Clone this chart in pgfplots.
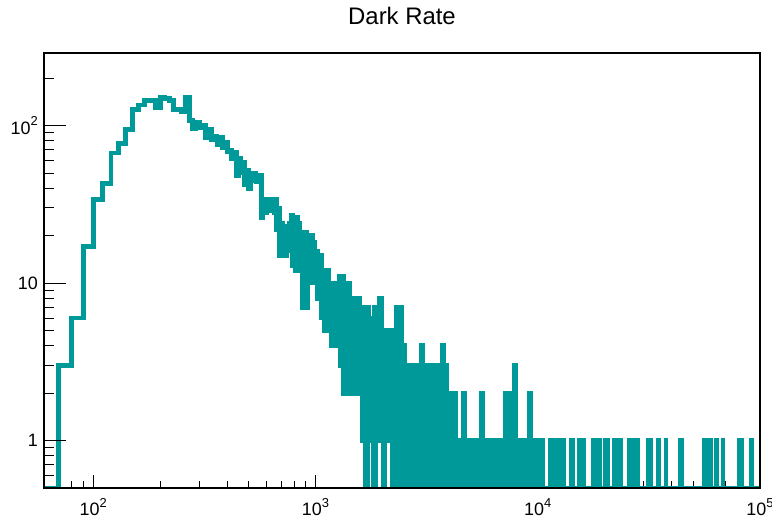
\documentclass[border=0pt]{standalone}
\usepackage{fontspec}
\setmainfont{Liberation Sans}
\usepackage{pgfplots}
\pgfplotsset{compat=1.18}
\usepackage{pgfplotstable}
\definecolor{histteal}{RGB}{0,153,153}

% decade label 10^k in text font
\newcommand{\dec}[1]{10\raisebox{0.46em}{\fontsize{13}{13}\selectfont #1}}

% bin lower edge (bins are 10 wide) and entries; only change points are listed
\pgfplotstableread{
x n
60 0
70 3
80 6
90 17
100 34
110 43
120 67
130 77
140 94
150 127
160 135
170 145
180 145
190 130
200 152
210 148
220 145
230 126
240 126
250 122
260 150
270 108
280 95
290 105
300 97
310 100
320 84
330 95
340 82
350 86
360 76
370 84
380 72
390 78
400 68
410 70
420 62
430 68
440 48
450 62
460 50
470 58
480 42
490 52
500 40
510 50
520 45
530 50
540 44
550 46
560 48
570 26
580 34
590 28
600 33
610 29
620 34
630 29
640 33
650 28
660 34
670 22
680 30
690 15
700 24
710 16
720 23
730 15
740 22
750 16
760 24
770 18
780 27
790 13
800 25
810 12
820 26
830 14
840 24
850 12
860 21
870 7
880 18
890 9
900 21
910 7
920 20
930 10
940 19
950 10
960 20
970 11
980 18
990 10
1000 16
1020 8
1040 15
1060 6
1080 12
1100 5
1120 12
1140 6
1160 10
1180 4
1200 10
1220 5
1240 10
1260 4
1280 11
1300 3
1320 11
1340 2
1360 10
1380 3
1400 10
1420 2
1440 8
1460 3
1480 8
1500 2
1520 8
1540 3
1560 8
1580 2
1600 7
1620 1
1640 6
1660 2
1670 0
1680 7
1690 0
1700 6
1710 0
1720 7
1730 1
1750 6
1770 2
1790 6
1810 1
1830 0
1840 7
1850 0
1860 7
1870 1
1890 7
1910 2
1930 8
1950 1
1970 8
1990 2
2010 5
2020 0
2030 5
2040 0
2050 5
2070 1
2100 5
2130 1
2160 5
2190 2
2210 0
2220 5
2230 0
2250 5
2260 0
2270 5
2280 0
2300 7
2330 1
2360 7
2380 0
2400 7
2440 0
2480 4
2520 0
2560 3
2600 0
2640 3
2680 0
2720 3
2770 0
2810 3
2850 0
2900 3
2940 0
2990 4
3040 0
3090 3
3130 0
3180 3
3230 0
3280 3
3330 0
3390 3
3440 0
3490 3
3550 0
3600 3
3660 0
3720 4
3780 0
3840 3
3900 0
3960 2
4020 0
4080 2
4150 0
4210 2
4280 0
4340 1
4410 0
4480 1
4550 0
4620 2
4700 0
4770 1
4840 0
4920 1
5000 0
5080 1
5160 0
5240 1
5320 0
5400 1
5490 0
5570 2
5660 0
5750 1
5840 0
5930 1
6020 0
6120 1
6210 0
6310 1
6410 0
6510 1
6610 0
6720 1
6820 0
6930 1
7040 0
7150 2
7260 0
7370 2
7490 0
7610 2
7730 0
7850 3
7970 0
8090 1
8220 0
8350 1
8480 0
8610 1
8750 0
8890 1
9030 0
9170 2
9310 0
9460 1
9610 0
9760 1
9910 0
10060 1
10220 0
10380 1
10540 0
11400 1
11410 0
11790 1
11800 0
12200 1
12210 0
12630 1
12640 0
13050 1
13060 0
14170 1
14180 0
14380 1
14390 0
15460 1
15470 0
16070 1
16080 0
17750 1
17760 0
18350 1
18360 0
18970 1
18980 0
20250 1
20260 0
20610 1
20620 0
22070 1
22080 0
22810 1
22820 0
23580 1
23590 0
25960 1
25970 0
26700 1
26710 0
27460 1
27470 0
28210 1
28220 0
31490 1
31500 0
32190 1
32200 0
34830 1
34840 0
37720 1
37730 0
43880 1
43890 0
44520 1
44530 0
55950 1
55960 0
57840 1
57850 0
59800 1
59810 0
63880 1
63890 0
68130 1
68140 0
80430 1
80440 0
82980 1
82990 0
91350 1
91360 0
100000 0
}\darkrate

\begin{document}
\begin{tikzpicture}
\path[use as bounding box] (0,0) rectangle (772bp,519bp);

% x ticks, histogram and title
\begin{axis}[
  at={(44bp,31bp)}, anchor=south west,
  scale only axis, width=716bp, height=435bp,
  xmode=log, ymode=log,
  xmin=60, xmax=100000, ymin=0.5, ymax=289,
  axis line style={line width=1.3bp, black},
  tick align=inside, tick pos=left,
  tick style={black, line width=1bp},
  major tick length=13bp, minor tick length=6.7bp,
  ytick=\empty, ymajorticks=false, yminorticks=false,
  xtick={100,1000,10000,100000},
  xticklabels={\dec{2},\dec{3},\dec{4},\dec{5}},
  minor xtick={70,80,90,200,300,400,500,600,700,800,900,2000,3000,4000,5000,6000,7000,8000,9000,20000,30000,40000,50000,60000,70000,80000,90000},
  xticklabel style={anchor=north, inner sep=0pt, yshift=-10bp, font=\fontsize{18}{18}\selectfont},
  title={Dark Rate},
  title style={at={(0.5,1)}, anchor=center, yshift=31bp, font=\fontsize{24}{24}\selectfont},
]
\addplot[const plot, histteal, line width=4.8bp, line join=miter, mark=none]
  table[x=x, y expr={max(\thisrow{n},0.5)}] {\darkrate};
\end{axis}

% y ticks
\begin{axis}[
  at={(44bp,31bp)}, anchor=south west,
  scale only axis, width=716bp, height=435bp,
  xmode=log, ymode=log,
  xmin=60, xmax=100000, ymin=0.5, ymax=289,
  axis line style={line width=1.3bp, black},
  tick align=inside, tick pos=left,
  tick style={black, line width=1bp},
  major tick length=22bp, minor tick length=10bp,
  xtick=\empty, xmajorticks=false, xminorticks=false,
  ytick={1,10,100},
  yticklabels={1,10,\dec{2}},
  minor ytick={0.6,0.7,0.8,0.9,2,3,4,5,6,7,8,9,20,30,40,50,60,70,80,90,200},
  yticklabel style={anchor=east, inner sep=0pt, xshift=-6bp, font=\fontsize{18}{18}\selectfont},
]
\end{axis}
\end{tikzpicture}
\end{document}
